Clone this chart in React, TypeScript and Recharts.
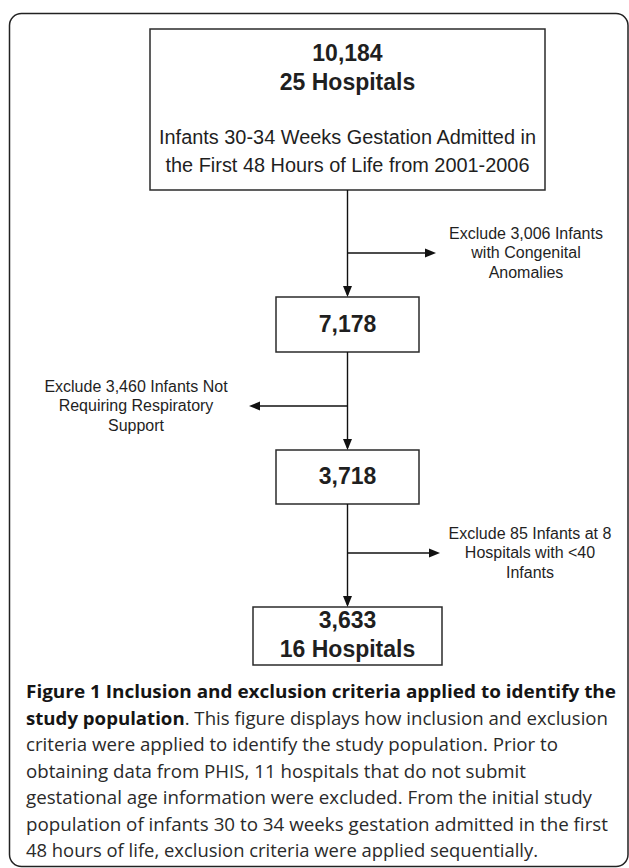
import React from "react";
import {
  ComposedChart,
  XAxis,
  YAxis,
  Scatter,
  ReferenceArea,
  ReferenceLine,
  ReferenceDot,
} from "recharts";

const W = 629;
const H = 868;

// counts at each step of the flow
const counts = ["10,184", "7,178", "3,718", "3,633"];
const hospitalLabels = ["25 Hospitals", "", "", "16 Hospitals"];
const startDescription = [
  "Infants 30-34 Weeks Gestation Admitted in",
  "the First 48 Hours of Life from 2001-2006",
];
const exclusions = [
  ["Exclude 3,006 Infants", "with Congenital", "Anomalies"],
  ["Exclude 3,460 Infants Not", "Requiring Respiratory", "Support"],
  ["Exclude 85 Infants at 8", "Hospitals with <40", "Infants"],
];
const captionLines = [
  [{ t: "Figure 1 Inclusion and exclusion criteria applied to identify the", b: true }],
  [
    { t: "study population", b: true },
    { t: ". This figure displays how inclusion and exclusion", b: false },
  ],
  [{ t: "criteria were applied to identify the study population. Prior to", b: false }],
  [{ t: "obtaining data from PHIS, 11 hospitals that do not submit", b: false }],
  [{ t: "gestational age information were excluded. From the initial study", b: false }],
  [{ t: "population of infants 30 to 34 weeks gestation admitted in the first", b: false }],
  [{ t: "48 hours of life, exclusion criteria were applied sequentially.", b: false }],
];

// layout (pixel space of the figure)
const spineX = 347.5;
const boxes = [
  { x1: 150, x2: 545, y1: 29, y2: 190 },
  { x1: 276, x2: 419, y1: 297, y2: 352 },
  { x1: 276, x2: 419, y1: 450, y2: 504 },
  { x1: 253, x2: 442, y1: 607, y2: 665 },
];
const countY = [53, 324, 476, 620];
const branches = [
  { y: 253, tipX: 436, textX: 526, textY: 233 },
  { y: 406, tipX: 249, textX: 136, textY: 386 },
  { y: 553, tipX: 440, textX: 530, textY: 533 },
];
const descWidths = [377, 364];
const captionX = 26;
const captionY = 698;
const captionWidths = [590, 582, 532, 500, 566, 582, 512];

const ink = "#1f1f1f";
const flowFont = "'Liberation Sans', Arial, sans-serif";
const captionFont = "'Open Sans', 'Noto Sans', sans-serif";

const countPoints = counts.map((c, i) => ({
  x: spineX,
  y: countY[i],
  lines: hospitalLabels[i] ? [c, hospitalLabels[i]] : [c],
}));
const exclusionPoints = exclusions.map((lines, i) => ({
  x: branches[i].textX,
  y: branches[i].textY,
  lines,
}));
const descPoints = [{ x: spineX, y: 137, lines: startDescription }];
const captionPoints = captionLines.map((segs, i) => ({
  x: captionX,
  y: captionY + i * 26.5,
  segs,
  w: captionWidths[i],
}));

const linesShape =
  (size: number, lh: number, bold: boolean, fit?: number[]) => (p: any) => (
    <g>
      {p.payload.lines.map((l: string, i: number) => (
        <text
          key={i}
          x={p.cx}
          y={p.cy + i * lh}
          textAnchor="middle"
          dominantBaseline="central"
          fontFamily={flowFont}
          fontSize={size}
          fontWeight={bold ? 700 : 400}
          fill={ink}
          textLength={fit ? fit[i] : undefined}
          lengthAdjust={fit ? "spacingAndGlyphs" : undefined}
        >
          {l}
        </text>
      ))}
    </g>
  );

const arrowShape = (dir: "down" | "left" | "right") => (p: any) => {
  const { cx, cy } = p;
  let pts = "";
  if (dir === "down") pts = `${cx},${cy} ${cx - 4.5},${cy - 11} ${cx + 4.5},${cy - 11}`;
  if (dir === "right") pts = `${cx},${cy} ${cx - 11},${cy - 4.5} ${cx - 11},${cy + 4.5}`;
  if (dir === "left") pts = `${cx},${cy} ${cx + 11},${cy - 4.5} ${cx + 11},${cy + 4.5}`;
  return <polygon points={pts} fill="#111" />;
};

const captionShape = (p: any) => (
  <text
    x={p.cx}
    y={p.cy}
    textLength={p.payload.w}
    lengthAdjust="spacingAndGlyphs"
    fontFamily={captionFont}
    fontSize={18.5}
    fill="#2a2a2a"
  >
    {p.payload.segs.map((s: any, k: number) => (
      <tspan key={k} fontWeight={s.b ? 700 : 400} fill={s.b ? "#151515" : "#2a2a2a"}>
        {s.t}
      </tspan>
    ))}
  </text>
);

const frameShape = (p: any) => (
  <rect
    x={p.x}
    y={p.y}
    width={p.width}
    height={p.height}
    rx={12}
    ry={12}
    fill="#fff"
    stroke="#222"
    strokeWidth={1.5}
  />
);

export default function App() {
  return (
    <div style={{ position: "absolute", left: 0, top: 0, background: "#fff" }}>
      <ComposedChart width={W} height={H} margin={{ top: 0, right: 0, bottom: 0, left: 0 }}>
        <XAxis type="number" dataKey="x" domain={[0, W]} allowDataOverflow hide />
        <YAxis type="number" dataKey="y" domain={[0, H]} allowDataOverflow reversed hide />

        <ReferenceArea x1={9.5} x2={628} y1={13.5} y2={866.5} shape={frameShape} ifOverflow="visible" />

        {/* spine between boxes */}
        {boxes.slice(0, -1).map((b, i) => (
          <ReferenceLine
            key={`s${i}`}
            segment={[
              { x: spineX, y: b.y2 },
              { x: spineX, y: boxes[i + 1].y1 - 2 },
            ]}
            stroke="#111"
            strokeWidth={1.4}
            ifOverflow="visible"
          />
        ))}
        {boxes.slice(1).map((b, i) => (
          <ReferenceDot
            key={`a${i}`}
            x={spineX}
            y={b.y1}
            shape={arrowShape("down")}
            ifOverflow="visible"
          />
        ))}

        {/* exclusion branches */}
        {branches.map((br, i) => (
          <ReferenceLine
            key={`b${i}`}
            segment={[
              { x: spineX, y: br.y },
              { x: br.tipX + (br.tipX > spineX ? -4 : 4), y: br.y },
            ]}
            stroke="#111"
            strokeWidth={1.4}
            ifOverflow="visible"
          />
        ))}
        {branches.map((br, i) => (
          <ReferenceDot
            key={`h${i}`}
            x={br.tipX}
            y={br.y}
            shape={arrowShape(br.tipX > spineX ? "right" : "left")}
            ifOverflow="visible"
          />
        ))}

        {/* boxes */}
        {boxes.map((b, i) => (
          <ReferenceArea
            key={`r${i}`}
            x1={b.x1}
            x2={b.x2}
            y1={b.y1}
            y2={b.y2}
            fill="#fff"
            fillOpacity={1}
            stroke="#2b2b2b"
            strokeWidth={1.5}
            ifOverflow="visible"
          />
        ))}

        <Scatter data={exclusionPoints} shape={linesShape(16, 19.5, false)} isAnimationActive={false} />
        <Scatter data={countPoints} shape={linesShape(23, 28.5, true)} isAnimationActive={false} />
        <Scatter
          data={descPoints}
          shape={linesShape(20, 28, false, descWidths)}
          isAnimationActive={false}
        />
        <Scatter data={captionPoints} shape={captionShape} isAnimationActive={false} />
      </ComposedChart>
    </div>
  );
}
